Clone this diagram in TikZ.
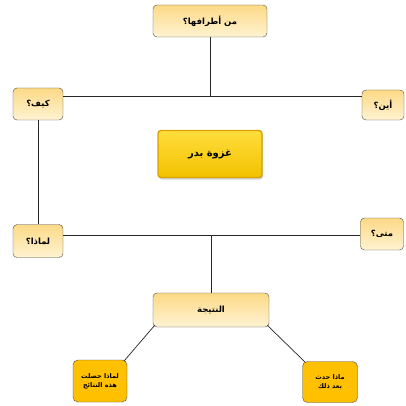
\documentclass[tikz,border=0pt]{standalone}
\usepackage{fontspec}
\newfontfamily\arabicfont[Script=Arabic]{DejaVu Sans}
\TeXXeTstate=1
\usetikzlibrary{shadows, calc}

\definecolor{boxtop}{HTML}{FCD986}
\definecolor{boxbot}{HTML}{FFF3D2}
\definecolor{boxline}{HTML}{4A4A4A}
\definecolor{goldtop}{HTML}{FFDD3C}
\definecolor{goldbot}{HTML}{F2C200}
\definecolor{goldline}{HTML}{D9A200}
\definecolor{orangefill}{HTML}{FFC000}

\newcommand{\artxt}[1]{{\arabicfont\bfseries\beginR #1\endR}}

\tikzset{
  qbox/.style={draw=boxline, rounded corners=4pt, top color=boxtop, bottom color=boxbot,
    inner sep=0pt, font=\fontsize{8.5}{9}\selectfont},
  mainbox/.style={draw=goldline, line width=1.4pt, rounded corners=3pt, top color=goldtop,
    bottom color=goldbot, inner sep=0pt, font=\fontsize{10}{11}\selectfont,
    drop shadow={opacity=0.35, shadow xshift=1pt, shadow yshift=-2pt}},
  endbox/.style={draw=boxline, rounded corners=5pt, fill=orangefill, inner sep=0pt,
    align=center, font=\fontsize{6.5}{9}\selectfont},
  link/.style={draw=black!85, line width=0.7pt}
}

\begin{document}
\begin{tikzpicture}[x=1pt, y=-1pt]
  \useasboundingbox (0,0) rectangle (405,406);

  % question boxes
  \node[qbox, minimum width=114pt, minimum height=32pt] (atraf) at (210,21) {\artxt{من أطرافها؟}};
  \node[qbox, minimum width=50pt, minimum height=32pt] (kayf) at (38,104) {\artxt{كيف؟}};
  \node[qbox, minimum width=42pt, minimum height=30pt] (ayna) at (383,105) {\artxt{أين؟}};
  \node[qbox, minimum width=50pt, minimum height=33pt] (limatha) at (38,241) {\artxt{لماذا؟}};
  \node[qbox, minimum width=43pt, minimum height=32pt] (mata) at (382,234) {\artxt{متى؟}};
  \node[qbox, minimum width=116pt, minimum height=34pt] (natija) at (211,310) {\artxt{النتيجة}};

  % centre
  \node[mainbox, minimum width=104pt, minimum height=47pt] (badr) at (210,154) {\artxt{غزوة بدر}};

  % results
  \node[endbox, minimum width=54pt, minimum height=42pt] (limada) at (100,381)
    {\artxt{لماذا حصلت}\\\artxt{هذه النتائج}};
  \node[endbox, minimum width=55pt, minimum height=41pt] (madha) at (330,382)
    {\artxt{ماذا حدث}\\\artxt{بعد ذلك}};

  % connectors
  \coordinate (uL) at (kayf.east |- 0,96);
  \coordinate (uR) at (ayna.west |- 0,96);
  \coordinate (dL) at (limatha.east |- 0,235);
  \coordinate (dR) at (mata.west |- 0,235);
  \draw[link] (uL) -- (uR);
  \draw[link] (dL) -- (dR);
  \draw[link] (atraf.south) -- (atraf.south |- uL);
  \draw[link] (kayf.south) -- (limatha.north);
  \draw[link] ($(ayna.south)+(4,0)$) -- ($(ayna.south)+(4,0)$ |- mata.north);
  \draw[link] (natija.north |- dL) -- (natija.north);
  \draw[link] ($(natija.south west)+(2,-2)$) -- ($(limada.north east)+(-3,1)$);
  \draw[link] ($(natija.south east)+(-2,-2)$) -- ($(madha.north west)+(3,1)$);
\end{tikzpicture}
\end{document}
